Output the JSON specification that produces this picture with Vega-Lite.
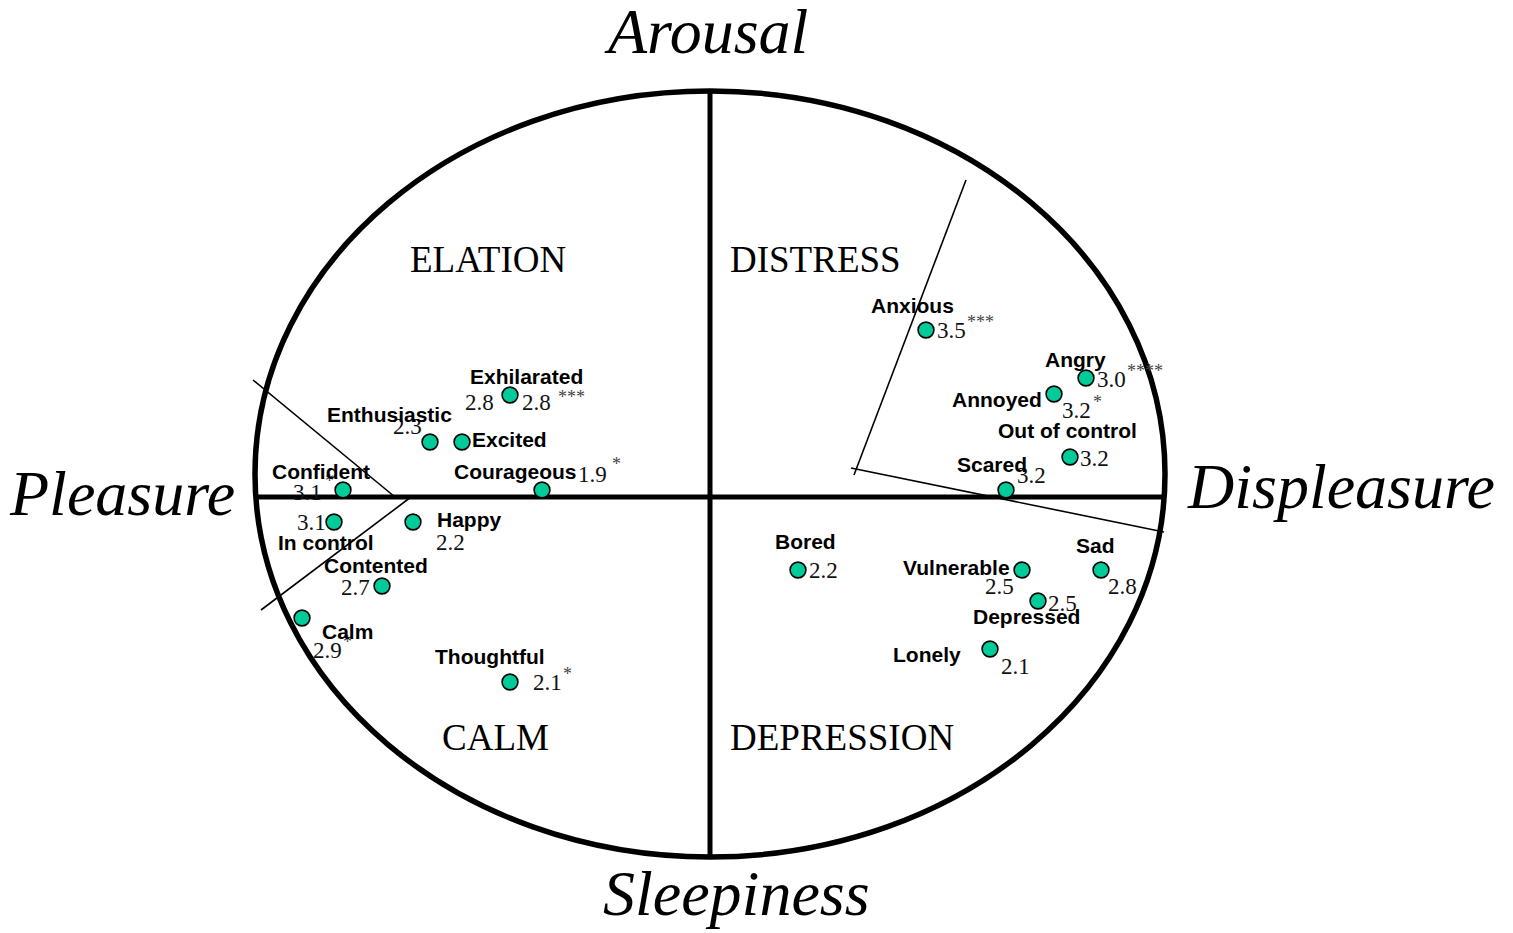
{
  "$schema": "https://vega.github.io/schema/vega-lite/v6.json",
  "width": 1513,
  "height": 933,
  "autosize": "none",
  "padding": 0,
  "background": "white",
  "config": {"view": {"stroke": null}},
  "datasets": {
    "ellipse": [{"x": 0, "y": 23}],
    "axes": [
      {"x": 0, "y": 407, "x2": 0, "y2": -361},
      {"x": -455, "y": 0, "x2": 454, "y2": 0}
    ],
    "dividers": [
      {"x": -457, "y": 117, "x2": -315, "y2": 0},
      {"x": -299, "y": 0, "x2": -449, "y2": -113},
      {"x": 256, "y": 317, "x2": 144, "y2": 22},
      {"x": 141, "y": 29, "x2": 454, "y2": -35}
    ],
    "emotions": [
      {"emotion": "Exhilarated", "x": -200, "y": 102},
      {"emotion": "Enthusiastic", "x": -280, "y": 55},
      {"emotion": "Excited", "x": -248, "y": 55},
      {"emotion": "Confident", "x": -367, "y": 7},
      {"emotion": "Courageous", "x": -168, "y": 7},
      {"emotion": "In control", "x": -376, "y": -25},
      {"emotion": "Happy", "x": -297, "y": -25},
      {"emotion": "Contented", "x": -328, "y": -89},
      {"emotion": "Calm", "x": -408, "y": -121},
      {"emotion": "Thoughtful", "x": -200, "y": -185},
      {"emotion": "Anxious", "x": 216, "y": 167},
      {"emotion": "Angry", "x": 376, "y": 119},
      {"emotion": "Annoyed", "x": 344, "y": 103},
      {"emotion": "Out of control", "x": 360, "y": 40},
      {"emotion": "Scared", "x": 296, "y": 7},
      {"emotion": "Bored", "x": 88, "y": -73},
      {"emotion": "Vulnerable", "x": 312, "y": -73},
      {"emotion": "Depressed", "x": 328, "y": -104},
      {"emotion": "Sad", "x": 391, "y": -73},
      {"emotion": "Lonely", "x": 280, "y": -152}
    ],
    "labels": [
      {"text": "Exhilarated", "x": -240, "y": 113},
      {"text": "Enthusiastic", "x": -383, "y": 75},
      {"text": "Excited", "x": -238, "y": 50},
      {"text": "Confident", "x": -438, "y": 18},
      {"text": "Courageous", "x": -256, "y": 18},
      {"text": "Happy", "x": -273, "y": -30},
      {"text": "In control", "x": -432, "y": -53},
      {"text": "Contented", "x": -386, "y": -76},
      {"text": "Calm", "x": -388, "y": -142},
      {"text": "Thoughtful", "x": -275, "y": -167},
      {"text": "Anxious", "x": 161, "y": 184},
      {"text": "Angry", "x": 335, "y": 130},
      {"text": "Annoyed", "x": 242, "y": 90},
      {"text": "Out of control", "x": 288, "y": 59},
      {"text": "Scared", "x": 247, "y": 25},
      {"text": "Bored", "x": 65, "y": -52},
      {"text": "Vulnerable", "x": 193, "y": -78},
      {"text": "Sad", "x": 366, "y": -56},
      {"text": "Depressed", "x": 263, "y": -127},
      {"text": "Lonely", "x": 183, "y": -165}
    ],
    "values": [
      {"text": "2.8", "x": -245, "y": 87},
      {"text": "2.8", "x": -188, "y": 87},
      {"text": "2.3", "x": -317, "y": 63},
      {"text": "1.9", "x": -132, "y": 15},
      {"text": "3.1", "x": -417, "y": -3},
      {"text": "3.1", "x": -413, "y": -33},
      {"text": "2.2", "x": -274, "y": -53},
      {"text": "2.7", "x": -369, "y": -98},
      {"text": "2.9", "x": -397, "y": -161},
      {"text": "2.1", "x": -177, "y": -193},
      {"text": "3.5", "x": 227, "y": 159},
      {"text": "3.0", "x": 387, "y": 110},
      {"text": "3.2", "x": 352, "y": 79},
      {"text": "3.2", "x": 370, "y": 31},
      {"text": "3.2", "x": 307, "y": 14},
      {"text": "2.2", "x": 99, "y": -81},
      {"text": "2.5", "x": 275, "y": -97},
      {"text": "2.5", "x": 338, "y": -114},
      {"text": "2.8", "x": 398, "y": -97},
      {"text": "2.1", "x": 291, "y": -177}
    ],
    "stars": [
      {"text": "***", "x": -152, "y": 94},
      {"text": "*", "x": -98, "y": 27},
      {"text": "*", "x": -385, "y": 10},
      {"text": "*", "x": -367, "y": -151},
      {"text": "*", "x": -147, "y": -183},
      {"text": "***", "x": 257, "y": 169},
      {"text": "****", "x": 417, "y": 120},
      {"text": "*", "x": 383, "y": 89}
    ],
    "quadrants": [
      {"text": "ELATION", "x": -300, "y": 225},
      {"text": "DISTRESS", "x": 20, "y": 225},
      {"text": "CALM", "x": -268, "y": -253},
      {"text": "DEPRESSION", "x": 20, "y": -253}
    ],
    "dimensions": [
      {"text": "Arousal", "x": -102, "y": 444},
      {"text": "Pleasure", "x": -700, "y": -18},
      {"text": "Displeasure", "x": 478, "y": -11},
      {"text": "Sleepiness", "x": -107, "y": -418}
    ]
  },
  "encoding": {
    "x": {"field": "x", "type": "quantitative", "scale": {"domain": [-710, 803], "nice": false, "zero": false}, "axis": null},
    "y": {"field": "y", "type": "quantitative", "scale": {"domain": [-436, 497], "nice": false, "zero": false}, "axis": null}
  },
  "layer": [
    {
      "data": {"name": "ellipse"},
      "mark": {
        "type": "point",
        "shape": "M -1 0 C -1 -0.4649 -0.5523 -0.8418 0 -0.8418 C 0.5523 -0.8418 1 -0.4649 1 0 C 1 0.4649 0.5523 0.8418 0 0.8418 C -0.5523 0.8418 -1 0.4649 -1 0 Z",
        "size": 828100,
        "filled": false,
        "color": "black",
        "stroke": "black",
        "strokeWidth": 5.5,
        "opacity": 1
      }
    },
    {
      "data": {"name": "axes"},
      "mark": {"type": "rule", "color": "black", "strokeWidth": 5},
      "encoding": {"x2": {"field": "x2"}, "y2": {"field": "y2"}}
    },
    {
      "data": {"name": "dividers"},
      "mark": {"type": "rule", "color": "black", "strokeWidth": 1.6},
      "encoding": {"x2": {"field": "x2"}, "y2": {"field": "y2"}}
    },
    {
      "data": {"name": "quadrants"},
      "mark": {"type": "text", "align": "left", "baseline": "alphabetic", "font": "Liberation Serif", "fontSize": 37, "color": "black"},
      "encoding": {"text": {"field": "text"}}
    },
    {
      "data": {"name": "dimensions"},
      "mark": {"type": "text", "align": "left", "baseline": "alphabetic", "font": "Liberation Serif", "fontStyle": "italic", "fontSize": 64, "color": "black"},
      "encoding": {"text": {"field": "text"}}
    },
    {
      "data": {"name": "values"},
      "mark": {"type": "text", "align": "left", "baseline": "alphabetic", "font": "Liberation Serif", "fontSize": 23, "color": "#111111"},
      "encoding": {"text": {"field": "text"}}
    },
    {
      "data": {"name": "stars"},
      "mark": {"type": "text", "align": "left", "baseline": "alphabetic", "font": "Liberation Serif", "fontSize": 18, "color": "#444444"},
      "encoding": {"text": {"field": "text"}}
    },
    {
      "data": {"name": "labels"},
      "mark": {"type": "text", "align": "left", "baseline": "alphabetic", "font": "Liberation Sans", "fontWeight": "bold", "fontSize": 21, "color": "black"},
      "encoding": {"text": {"field": "text"}}
    },
    {
      "data": {"name": "emotions"},
      "mark": {"type": "circle", "size": 250, "fill": "#00CC99", "stroke": "black", "strokeWidth": 1.6, "opacity": 1},
      "encoding": {"tooltip": {"field": "emotion"}}
    }
  ]
}
